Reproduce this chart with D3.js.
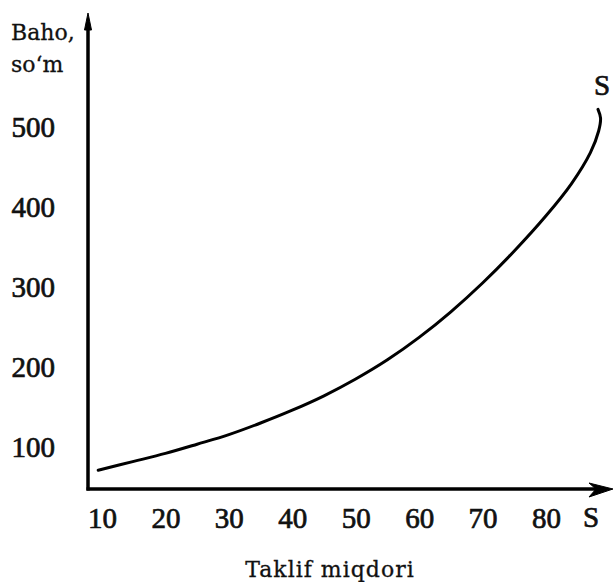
<!DOCTYPE html>
<html>
  <head>
    <meta charset="utf-8">
    <title>Taklif egri chizig'i</title>
    <style>
      body { margin: 0; background: #fff; }
      svg { display: block; }
      .num {
        font-family: "Liberation Serif", "Times New Roman", serif;
        font-size: 29px;
        fill: #111;
        stroke: #111;
        stroke-width: 0.7px;
      }
      .lbl {
        font-family: "DejaVu Serif", serif;
        font-size: 22px;
        fill: #111;
        stroke: #111;
        stroke-width: 0.3px;
      }
      .axis-line { stroke: #000; stroke-width: 3.5; fill: none; }
      .supply { stroke: #000; stroke-width: 3; fill: none; stroke-linecap: round; }
    </style>
    <script src="https://cdn.jsdelivr.net/npm/d3@7"></script>
  </head>
  <body>
    <svg id="chart" width="614" height="582"></svg>
    <script>
      // tick values
      var xTicks = [10, 20, 30, 40, 50, 60, 70, 80];
      var yTicks = [100, 200, 300, 400, 500];

      // supply curve S: quantity, price
      var supplyQty   = [9.4, 15, 20, 25, 30, 35, 40, 45, 50, 55, 60, 65, 70, 75, 80, 84, 87, 88.3, 88.6, 88.2];
      var supplyPrice = [71, 82, 92, 103.5, 115.5, 130, 146, 164, 185, 209, 237, 269, 305, 345, 389, 429, 468, 495, 511, 522];

      var svg = d3.select("#chart");

      var x = d3.scaleLinear().domain([10, 80]).range([102, 546]);
      var y = d3.scaleLinear().domain([100, 500]).range([447, 127]);

      var originX = 88, originY = 489;

      // x tick labels
      var xAxis = svg.append("g")
        .attr("transform", "translate(0," + originY + ")")
        .call(d3.axisBottom(x).tickValues(xTicks).tickSize(0).tickPadding(18).tickFormat(d3.format("d")));
      xAxis.select(".domain").remove();
      xAxis.attr("font-family", null).attr("font-size", null);
      xAxis.selectAll("text").attr("class", "num");

      // y tick labels
      var yAxis = svg.append("g")
        .attr("transform", "translate(" + originX + ",0)")
        .call(d3.axisLeft(y).tickValues(yTicks).tickSize(0).tickPadding(33).tickFormat(d3.format("d")));
      yAxis.select(".domain").remove();
      yAxis.attr("font-family", null).attr("font-size", null);
      yAxis.selectAll("text").attr("class", "num");

      // axes with arrows
      svg.append("line").attr("class", "axis-line")
        .attr("x1", originX).attr("y1", originY + 1.5)
        .attr("x2", originX).attr("y2", 22);
      svg.append("path")
        .attr("d", "M" + (originX - 3.5) + ",30 L" + originX + ",13 L" + (originX + 3.5) + ",30 Z")
        .attr("fill", "#000").attr("stroke", "#000").attr("stroke-width", 1);

      svg.append("line").attr("class", "axis-line")
        .attr("x1", originX - 1.5).attr("y1", originY)
        .attr("x2", 606).attr("y2", originY);
      svg.append("path")
        .attr("d", "M589," + (originY - 6) + " L613," + originY + " L589," + (originY + 8) + " L596," + originY + " Z")
        .attr("fill", "#000").attr("stroke", "#000").attr("stroke-width", 1).attr("stroke-linejoin", "round");

      // "S" at the end of the x axis
      svg.append("text").attr("class", "num")
        .attr("x", 591).attr("y", 527)
        .attr("text-anchor", "middle").text("S");

      // supply curve
      var pts = supplyQty.map(function(q, i) { return [q, supplyPrice[i]]; });
      var line = d3.line()
        .x(function(d) { return x(d[0]); })
        .y(function(d) { return y(d[1]); })
        .curve(d3.curveCatmullRom.alpha(0.5));
      svg.append("path").attr("class", "supply").attr("d", line(pts));

      // "S" label at the top of the curve
      svg.append("text").attr("class", "num")
        .attr("x", 602).attr("y", 95)
        .attr("text-anchor", "middle").text("S");

      // axis titles
      svg.append("text").attr("class", "lbl").attr("x", 11).attr("y", 40).text("Baho,");
      svg.append("text").attr("class", "lbl").attr("x", 11).attr("y", 72).text("so\u2018m");
      svg.append("text").attr("class", "lbl")
        .attr("x", 330).attr("y", 577)
        .attr("text-anchor", "middle")
        .style("letter-spacing", "1px")
        .text("Taklif miqdori");
    </script>
  </body>
</html>
